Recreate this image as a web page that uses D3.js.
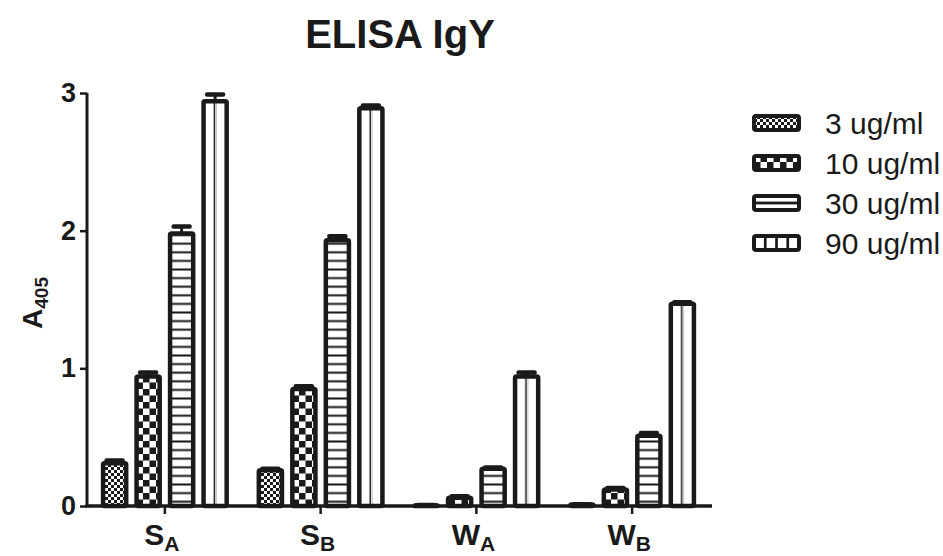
<!DOCTYPE html>
<html>
<head>
<meta charset="utf-8">
<script src="https://cdn.jsdelivr.net/npm/d3@7"></script>
<style>
  body { margin: 0; background: #fff; }
  svg { display: block; font-family: "Liberation Sans", Arial, sans-serif; }
</style>
</head>
<body>
<div id="chart"></div>
<script>
// ELISA IgY, grouped bars with upward error caps
var groups = ["SA", "SB", "WA", "WB"];
var groupMain = ["S", "S", "W", "W"];
var groupSub = ["A", "B", "A", "B"];
var series = ["3 ug/ml", "10 ug/ml", "30 ug/ml", "90 ug/ml"];
var patIds = ["p3", "p10", "p30", "p90"];

// mean A405 per group, one array per concentration
var conc3 = [0.31, 0.26, 0.005, 0.01];
var conc10 = [0.94, 0.85, 0.06, 0.12];
var conc30 = [1.98, 1.93, 0.27, 0.51];
var conc90 = [2.94, 2.89, 0.94, 1.47];
// error (upper) per group
var err3 = [0.02, 0.01, 0.003, 0.003];
var err10 = [0.03, 0.02, 0.01, 0.01];
var err30 = [0.05, 0.03, 0.01, 0.02];
var err90 = [0.05, 0.02, 0.03, 0.01];
var yTicks = [0, 1, 2, 3];

var values = [conc3, conc10, conc30, conc90];
var errors = [err3, err10, err30, err90];

var w = 943, h = 556;
var x0 = 87, x1 = 710, yTop = 93, yBase = 506;
var stroke = 4.5;

var svg = d3.select("#chart").append("svg")
    .attr("width", w)
    .attr("height", h);

var defs = svg.append("defs");

// fine checker (3 ug/ml)
var p = defs.append("pattern").attr("id", "p3").attr("patternUnits", "userSpaceOnUse")
    .attr("width", 6).attr("height", 6).attr("y", yBase);
p.append("rect").attr("width", 6).attr("height", 6).attr("fill", "#fff");
p.append("rect").attr("width", 3).attr("height", 3).attr("fill", "#1a1a1a");
p.append("rect").attr("x", 3).attr("y", 3).attr("width", 3).attr("height", 3).attr("fill", "#1a1a1a");

// coarse checker (10 ug/ml)
p = defs.append("pattern").attr("id", "p10").attr("patternUnits", "userSpaceOnUse")
    .attr("width", 13).attr("height", 13).attr("y", yBase);
p.append("rect").attr("width", 13).attr("height", 13).attr("fill", "#fff");
p.append("rect").attr("width", 6.5).attr("height", 6.5).attr("fill", "#1a1a1a");
p.append("rect").attr("x", 6.5).attr("y", 6.5).attr("width", 6.5).attr("height", 6.5).attr("fill", "#1a1a1a");

// horizontal lines (30 ug/ml)
p = defs.append("pattern").attr("id", "p30").attr("patternUnits", "userSpaceOnUse")
    .attr("width", 10).attr("height", 8.6).attr("y", yBase);
p.append("rect").attr("width", 10).attr("height", 8.6).attr("fill", "#fff");
p.append("rect").attr("y", 3.3).attr("width", 10).attr("height", 2).attr("fill", "#1a1a1a");

// vertical centre lines (90 ug/ml)
p = defs.append("pattern").attr("id", "p90").attr("patternUnits", "objectBoundingBox")
    .attr("patternContentUnits", "objectBoundingBox")
    .attr("width", 1).attr("height", 1);
p.append("rect").attr("width", 1).attr("height", 1).attr("fill", "#fff");
p.append("rect").attr("x", 0.44).attr("width", 0.06).attr("height", 1).attr("fill", "#1a1a1a");
p.append("rect").attr("x", 0.53).attr("width", 0.03).attr("height", 1).attr("fill", "#888");

// legend variants
p = defs.append("pattern").attr("id", "l30").attr("patternUnits", "objectBoundingBox")
    .attr("patternContentUnits", "objectBoundingBox").attr("width", 1).attr("height", 1);
p.append("rect").attr("width", 1).attr("height", 1).attr("fill", "#fff");
p.append("rect").attr("y", 0.4).attr("width", 1).attr("height", 0.2).attr("fill", "#1a1a1a");

p = defs.append("pattern").attr("id", "l90").attr("patternUnits", "objectBoundingBox")
    .attr("patternContentUnits", "objectBoundingBox").attr("width", 1).attr("height", 1);
p.append("rect").attr("width", 1).attr("height", 1).attr("fill", "#fff");
[0.25, 0.5, 0.75].forEach(function(f) {
    p.append("rect").attr("x", f - 0.03).attr("width", 0.06).attr("height", 1).attr("fill", "#1a1a1a");
});

// Scales
var x_scale = d3.scaleBand().domain(groups).range([x0, x1]).padding(0);
var xs_scale = d3.scaleBand().domain(series).range([0, x_scale.bandwidth()])
    .paddingInner(0.31).paddingOuter(0.48);
var y_scale = d3.scaleLinear().domain([0, 3]).range([yBase, yTop]);

// Bars
var bars = [];
series.forEach(function(s, si) {
    groups.forEach(function(g, gi) {
        bars.push({ g: g, s: s, si: si, v: values[si][gi], e: errors[si][gi] });
    });
});

var barG = svg.append("g");
barG.selectAll("g.bar").data(bars).enter().append("g").attr("class", "bar")
    .each(function(d) {
        var sel = d3.select(this);
        var bx = x_scale(d.g) + xs_scale(d.s);
        var bw = xs_scale.bandwidth();
        var cx = bx + bw / 2;
        var top = y_scale(d.v);
        var etop = y_scale(d.v + d.e);
        // error line + cap (upwards only)
        sel.append("line")
            .attr("x1", cx).attr("x2", cx)
            .attr("y1", top).attr("y2", etop)
            .attr("stroke", "#1a1a1a").attr("stroke-width", 3);
        sel.append("line")
            .attr("x1", cx - 8).attr("x2", cx + 8)
            .attr("y1", etop).attr("y2", etop)
            .attr("stroke", "#1a1a1a").attr("stroke-width", 4.5)
            .attr("stroke-linecap", "round");
        sel.append("rect")
            .attr("x", bx).attr("y", top)
            .attr("width", bw).attr("height", Math.max(0, yBase - top))
            .attr("rx", 1.5)
            .attr("fill", "url(#" + patIds[d.si] + ")")
            .attr("stroke", "#1a1a1a").attr("stroke-width", stroke)
            .attr("stroke-linejoin", "round");
    });

// Axes
var yAxis = d3.axisLeft(y_scale).tickValues(yTicks).tickSize(7).tickPadding(4).tickFormat(d3.format("d"));
var gy = svg.append("g").attr("transform", "translate(" + x0 + ",0)").call(yAxis);
gy.select(".domain").attr("d", "M0," + yTop + "V" + yBase).attr("stroke", "#1a1a1a").attr("stroke-width", 3);
gy.selectAll(".tick line").attr("stroke", "#1a1a1a").attr("stroke-width", 2.5);
gy.selectAll(".tick text").attr("font-size", 27).attr("font-weight", "bold").attr("fill", "#1a1a1a")
    .attr("font-family", "Liberation Sans, Arial, sans-serif");

var xAxis = d3.axisBottom(x_scale).tickSize(8).tickFormat("");
var gx = svg.append("g").attr("transform", "translate(0," + yBase + ")").call(xAxis);
gx.select(".domain").attr("d", "M" + (x0 - 1.5) + ",0H" + (x1 + 2)).attr("stroke", "#1a1a1a").attr("stroke-width", 3.5);
gx.selectAll(".tick line").attr("stroke", "#1a1a1a").attr("stroke-width", 2.5);

// x labels with subscripts
var xl = svg.append("g").selectAll("text").data(groups).enter().append("text")
    .attr("x", function(d) { return x_scale(d) + x_scale.bandwidth() / 2 - 3; })
    .attr("y", 545)
    .attr("text-anchor", "middle")
    .attr("font-size", 30).attr("font-weight", "bold").attr("fill", "#1a1a1a");
xl.append("tspan").text(function(d, i) { return groupMain[i]; });
xl.append("tspan").attr("font-size", 21).attr("dy", 6).text(function(d, i) { return groupSub[i]; });

// y label
var yl = svg.append("text")
    .attr("transform", "translate(42,303)rotate(-90)")
    .attr("text-anchor", "middle")
    .attr("font-size", 28).attr("font-weight", "bold").attr("fill", "#1a1a1a");
yl.append("tspan").text("A");
yl.append("tspan").attr("font-size", 19).attr("dy", 6).text("405");

// title
svg.append("text")
    .attr("x", 400).attr("y", 48)
    .attr("text-anchor", "middle")
    .attr("font-size", 40).attr("font-weight", "bold").attr("fill", "#1a1a1a")
    .text("ELISA IgY");

// legend
var legPat = ["p3", "p10", "l30", "l90"];
var leg = svg.append("g").selectAll("g").data(series).enter().append("g")
    .attr("transform", function(d, i) { return "translate(754," + (123 + i * 40) + ")"; });
leg.append("rect")
    .attr("x", 0).attr("y", -7).attr("width", 45).attr("height", 14).attr("rx", 2)
    .attr("fill", function(d, i) { return "url(#" + legPat[i] + ")"; })
    .attr("stroke", "#1a1a1a").attr("stroke-width", 4);
leg.append("text")
    .attr("x", 71).attr("y", 0).attr("dy", "0.36em")
    .attr("font-size", 30).attr("fill", "#1a1a1a")
    .text(function(d) { return d; });
</script>
</body>
</html>
